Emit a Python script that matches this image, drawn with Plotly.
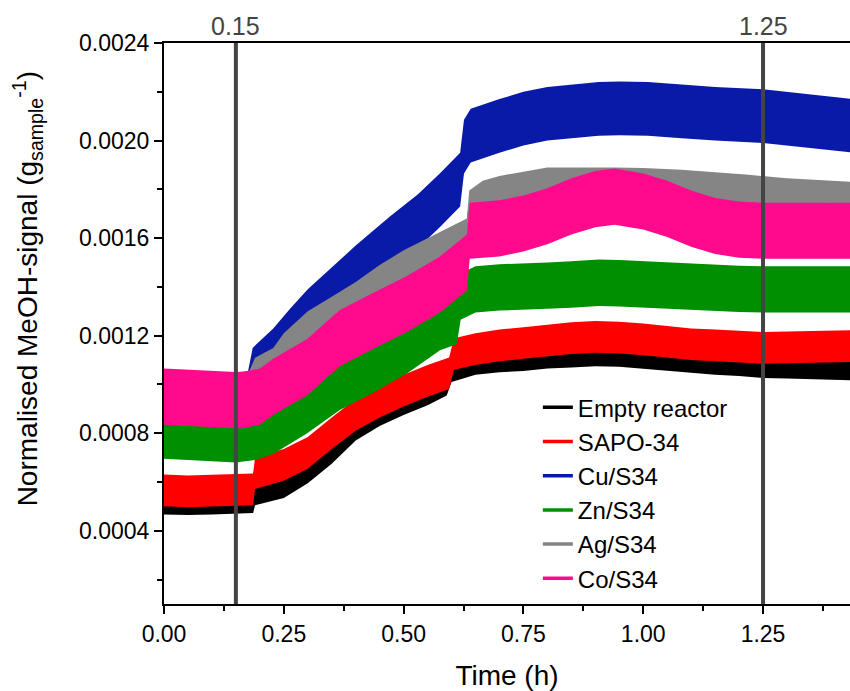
import plotly.graph_objects as go

# ---------------- data ----------------
series_names = ["Empty reactor", "SAPO-34", "Cu/S34", "Zn/S34", "Ag/S34", "Co/S34"]
series_colors = ["#000000", "#ff0000", "#0a1aa8", "#008f00", "#858585", "#ff0a8c"]

t_empty = [0, 0.05, 0.10, 0.15, 0.186, 0.19, 0.25, 0.30, 0.35, 0.40, 0.45, 0.50, 0.55, 0.59, 0.60,
           0.65, 0.70, 0.75, 0.80, 0.85, 0.90, 0.95, 1.00, 1.05, 1.10, 1.15, 1.20, 1.25, 1.30, 1.35, 1.44]
v_empty = [0.000512, 0.000510, 0.000512, 0.000515, 0.000518, 0.000550, 0.000580, 0.000640, 0.000720,
           0.000815, 0.000875, 0.000920, 0.000960, 0.001000, 0.001055, 0.001085, 0.001095, 0.001100,
           0.001110, 0.001115, 0.001120, 0.001118, 0.001110, 0.001100, 0.001092, 0.001085, 0.001080,
           0.001072, 0.001070, 0.001068, 0.001062]

t_sapo = [0, 0.05, 0.10, 0.15, 0.186, 0.19, 0.25, 0.30, 0.35, 0.40, 0.45, 0.50, 0.55, 0.595, 0.605,
          0.65, 0.70, 0.75, 0.80, 0.85, 0.90, 0.95, 1.00, 1.05, 1.10, 1.15, 1.20, 1.25, 1.30, 1.35, 1.44]
v_sapo = [0.000566, 0.000562, 0.000565, 0.000568, 0.000570, 0.000636, 0.000670, 0.000720, 0.000800,
          0.000875, 0.000930, 0.000975, 0.001015, 0.001046, 0.001125, 0.001145, 0.001160, 0.001170,
          0.001180, 0.001190, 0.001195, 0.001192, 0.001185, 0.001175, 0.001165, 0.001160, 0.001155,
          0.001150, 0.001152, 0.001155, 0.001158]

t_cu = [0, 0.05, 0.10, 0.15, 0.175, 0.185, 0.228, 0.263, 0.30, 0.367, 0.40, 0.472, 0.53, 0.576, 0.618,
        0.626, 0.64, 0.70, 0.75, 0.80, 0.85, 0.907, 0.95, 1.01, 1.08, 1.15, 1.25, 1.30, 1.35, 1.44]
v_cu = [0.000920, 0.000925, 0.000930, 0.000935, 0.000940, 0.001040, 0.001120, 0.001200, 0.001280,
        0.001400, 0.001460, 0.001580, 0.001670, 0.001756, 0.001840, 0.001975, 0.002020, 0.002060,
        0.002090, 0.002110, 0.002120, 0.002130, 0.002132, 0.002130, 0.002120, 0.002110, 0.002100,
        0.002090, 0.002080, 0.002060]

t_zn = [0, 0.05, 0.10, 0.15, 0.19, 0.228, 0.298, 0.367, 0.436, 0.507, 0.576, 0.611, 0.619, 0.65, 0.70,
        0.75, 0.80, 0.85, 0.907, 0.95, 1.00, 1.05, 1.10, 1.15, 1.20, 1.25, 1.30, 1.35, 1.44]
v_zn = [0.000790, 0.000785, 0.000780, 0.000775, 0.000785, 0.000810, 0.000894, 0.000990, 0.001060,
        0.001140, 0.001235, 0.001260, 0.001360, 0.001390, 0.001398, 0.001400, 0.001405, 0.001410,
        0.001417, 0.001415, 0.001410, 0.001405, 0.001400, 0.001395, 0.001392, 0.001390, 0.001390,
        0.001390, 0.001390]

t_ag = [0, 0.05, 0.10, 0.15, 0.178, 0.19, 0.228, 0.25, 0.30, 0.35, 0.40, 0.45, 0.50, 0.55, 0.60, 0.632,
        0.637, 0.665, 0.70, 0.80, 0.94, 1.00, 1.08, 1.15, 1.22, 1.30, 1.44]
v_ag = [0.000960, 0.000955, 0.000955, 0.000960, 0.000965, 0.001020, 0.001060, 0.001120, 0.001210,
        0.001270, 0.001330, 0.001400, 0.001460, 0.001510, 0.001560, 0.001590, 0.001705, 0.001745,
        0.001765, 0.001800, 0.001800, 0.001798, 0.001790, 0.001780, 0.001770, 0.001755, 0.001740]

t_co = [0, 0.05, 0.10, 0.16, 0.20, 0.228, 0.298, 0.367, 0.436, 0.507, 0.576, 0.632, 0.638, 0.70,
        0.75, 0.80, 0.85, 0.90, 0.94, 1.00, 1.05, 1.10, 1.15, 1.20, 1.25, 1.30, 1.35, 1.44]
v_co = [0.000950, 0.000945, 0.000940, 0.000935, 0.000950, 0.000990, 0.001070, 0.001190, 0.001260,
        0.001330, 0.001410, 0.001500, 0.001630, 0.001640, 0.001660, 0.001690, 0.001730, 0.001760,
        0.001770, 0.001750, 0.001720, 0.001680, 0.001650, 0.001635, 0.001630, 0.001630, 0.001630,
        0.001630]

# noise half-widths: (dense core, spikes)
noise_core = [0.000022, 0.000035, 0.000050, 0.000045, 0.000045, 0.000055]
noise_spike = [0.000045, 0.000065, 0.000110, 0.000095, 0.000090, 0.000115]

marker_times = [0.15, 1.25]
marker_labels = ["0.15", "1.25"]

x_ticks = [0, 0.25, 0.50, 0.75, 1.00, 1.25]
y_ticks = [0.0004, 0.0008, 0.0012, 0.0016, 0.0020, 0.0024]

# ---------------- figure ----------------
all_t = [t_empty, t_sapo, t_cu, t_zn, t_ag, t_co]
all_v = [v_empty, v_sapo, v_cu, v_zn, v_ag, v_co]

fig = go.Figure()
for name, col, ts, vs, hc, hs in zip(series_names, series_colors, all_t, all_v, noise_core, noise_spike):
    for hw, op in ((hs, 0.40), (hc, 1.0)):
        lo = [v - hw for v in vs]
        hi = [v + hw for v in vs]
        fig.add_trace(go.Scatter(x=ts, y=lo, mode="lines", line=dict(width=0, color=col),
                                 showlegend=False, hoverinfo="skip"))
        fig.add_trace(go.Scatter(x=ts, y=hi, mode="lines", line=dict(width=0, color=col),
                                 fill="tonexty", fillcolor=col, opacity=op,
                                 showlegend=False, hoverinfo="skip"))
    fig.add_trace(go.Scatter(x=ts, y=vs, mode="lines", name=name,
                             line=dict(width=3.5, color=col)))

for tm, lab in zip(marker_times, marker_labels):
    fig.add_shape(type="line", x0=tm, x1=tm, y0=0, y1=1, xref="x", yref="paper",
                  line=dict(color="#444444", width=4), layer="above")
    fig.add_annotation(x=tm, y=1, xref="x", yref="paper", yanchor="bottom", yshift=1,
                       text=lab, showarrow=False, font=dict(size=25, color="#444444"))

fig.add_annotation(x=0, xref="paper", xanchor="center", xshift=-136, y=0.00139, yref="y",
                   yanchor="middle",
                   text="Normalised MeOH-signal (g<sub>sample</sub><sup>-1</sup>)",
                   textangle=-90, showarrow=False, font=dict(size=28, color="black"))

font_family = "Arial, Liberation Sans, sans-serif"
fig.update_layout(
    width=850, height=691,
    margin=dict(l=164, r=0, t=43, b=87),
    paper_bgcolor="white", plot_bgcolor="white",
    font=dict(family=font_family, color="black"),
    showlegend=True,
    legend=dict(x=0.545, y=0.39, xanchor="left", yanchor="top", traceorder="normal",
                font=dict(size=24, color="black"), bgcolor="rgba(0,0,0,0)",
                tracegroupgap=0, itemwidth=30),
    xaxis=dict(range=[0, 1.4315], tickvals=x_ticks, tickformat=".2f",
               ticks="outside", ticklen=8, tickwidth=2, tickcolor="black",
               minor=dict(dtick=0.125, tick0=0, ticks="outside", ticklen=5, tickwidth=2, tickcolor="black"),
               showline=True, linewidth=2, linecolor="black", mirror=True,
               showgrid=False, zeroline=False, tickfont=dict(size=23),
               title=dict(text="Time (h)", font=dict(size=28), standoff=22)),
    yaxis=dict(range=[0.0001, 0.0024], tickvals=y_ticks, tickformat=".4f",
               ticks="outside", ticklen=8, tickwidth=2, tickcolor="black",
               minor=dict(dtick=0.0002, tick0=0, ticks="outside", ticklen=5, tickwidth=2, tickcolor="black"),
               showline=True, linewidth=2, linecolor="black", mirror=False,
               showgrid=False, zeroline=False, tickfont=dict(size=23)),
)

fig.write_html("out.html")
